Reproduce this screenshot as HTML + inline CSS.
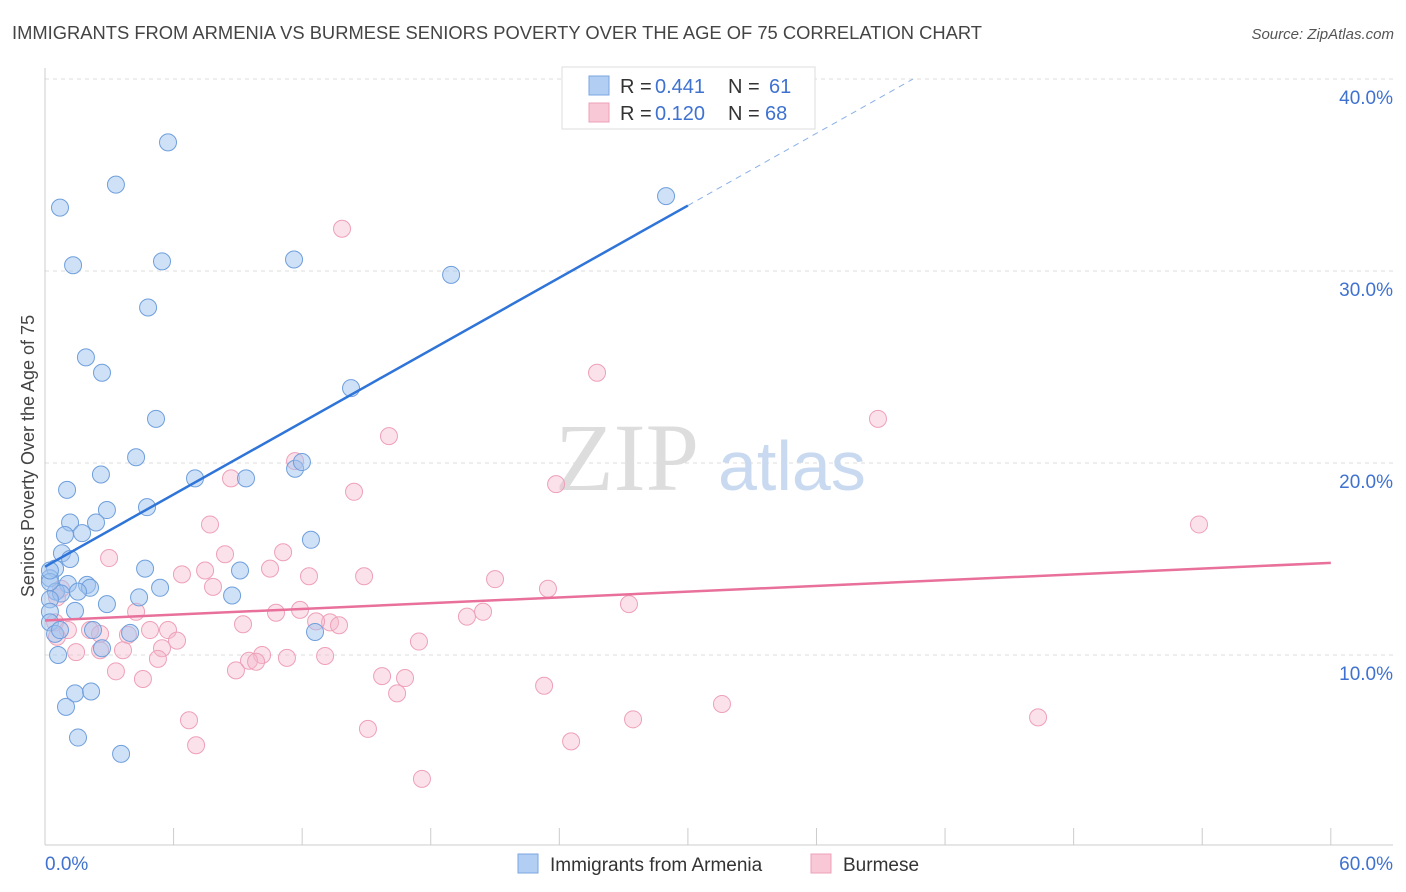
<!DOCTYPE html>
<html><head><meta charset="utf-8"><style>
body{margin:0;background:#fff;font-family:"Liberation Sans",sans-serif;}
svg{display:block}
</style></head><body>
<svg id="chart" width="1406" height="892">
<text x="12" y="39" font-size="18" fill="#444" textLength="970" lengthAdjust="spacingAndGlyphs">IMMIGRANTS FROM ARMENIA VS BURMESE SENIORS POVERTY OVER THE AGE OF 75 CORRELATION CHART</text>
<text x="1394" y="39" font-size="15" fill="#555" font-style="italic" text-anchor="end">Source: ZipAtlas.com</text>
<g id="grid"></g>
<g>
<text x="555" y="490" font-family="Liberation Serif,serif" font-size="96" fill="#ddd">ZIP</text>
<text x="718" y="490" font-size="70" fill="#c9daf0">atlas</text>
</g>
<text transform="translate(34,456) rotate(-90)" font-size="18" fill="#444" text-anchor="middle">Seniors Poverty Over the Age of 75</text>
<g id="pts"></g>
<g id="lines"></g>
<g>
<rect x="562" y="67" width="253" height="62" fill="#fff" stroke="#ddd"/>
<rect x="589" y="76" width="20" height="19" fill="#b3cef3" stroke="#7aa6e0"/>
<rect x="589" y="103" width="20" height="19" fill="#f8c8d6" stroke="#eea0b8"/>
<text y="93" font-size="20" fill="#333"><tspan x="620">R = </tspan><tspan x="655" fill="#3f72d0">0.441</tspan><tspan x="728">N = </tspan><tspan x="769" fill="#3f72d0">61</tspan></text>
<text y="120" font-size="20" fill="#333"><tspan x="620">R = </tspan><tspan x="655" fill="#3f72d0">0.120</tspan><tspan x="728">N = </tspan><tspan x="765" fill="#3f72d0">68</tspan></text>
</g>
<g>
<rect x="518" y="854" width="20" height="19" fill="#b3cef3" stroke="#7aa6e0"/>
<text x="550" y="871" font-size="19" fill="#333">Immigrants from Armenia</text>
<rect x="811" y="854" width="20" height="19" fill="#f8c8d6" stroke="#eea0b8"/>
<text x="843" y="871" font-size="19" fill="#333">Burmese</text>
</g>
</svg>
<script>
const blueX=[5.74,3.31,0.70,1.31,5.46,11.62,18.95,4.81,1.91,2.66,14.28,5.18,4.25,1.03,2.61,7.0,9.38,11.67,11.99,4.76,2.89,1.17,2.38,1.73,0.93,0.79,1.17,12.41,0.47,0.23,4.67,9.1,1.07,1.96,2.1,0.51,1.54,0.75,5.37,0.23,8.73,4.39,2.89,1.4,0.23,0.23,12.6,2.24,3.97,0.47,2.66,0.61,1.4,2.15,0.98,1.54,3.55,28.98,0.23,0.7,0.23];
const blueY=[36.7,34.5,33.3,30.3,30.5,30.6,29.8,28.1,25.5,24.7,23.9,22.3,20.3,18.6,19.4,19.2,19.2,19.7,20.05,17.7,17.55,16.9,16.9,16.35,16.25,15.3,15.0,16.0,14.5,14.0,14.5,14.4,13.7,13.65,13.5,13.3,13.3,13.2,13.5,12.9,13.1,13.0,12.65,12.3,12.25,11.7,11.2,11.3,11.15,11.1,10.35,10.0,8.0,8.1,7.3,5.7,4.85,33.9,13.8,11.3,14.4];
const pinkX=[13.86,25.76,38.87,16.05,11.67,14.42,23.85,8.68,7.7,53.85,2.99,8.4,11.11,6.39,7.47,10.5,12.32,14.89,21.0,7.84,23.47,0.56,0.75,27.25,4.25,10.78,11.9,20.44,19.69,0.47,1.07,2.1,4.9,5.74,13.3,13.72,9.24,12.65,0.56,3.87,6.16,17.45,2.57,1.45,3.64,5.46,10.13,5.27,9.52,9.85,11.29,13.07,8.91,3.31,4.57,15.73,16.8,16.43,23.29,31.59,6.72,27.44,46.34,15.07,24.55,7.05,17.59,2.57];
const pinkY=[32.2,24.7,22.3,21.4,20.1,18.5,18.9,19.2,16.8,16.8,15.05,15.25,15.35,14.2,14.4,14.5,14.1,14.1,13.95,13.55,13.45,13.0,13.45,12.65,12.25,12.2,12.35,12.25,12.0,11.7,11.3,11.3,11.3,11.3,11.7,11.55,11.6,11.75,10.95,11.05,10.75,10.7,10.25,10.15,10.25,10.35,10.0,9.8,9.7,9.65,9.85,9.95,9.2,9.15,8.75,8.9,8.8,8.0,8.4,7.45,6.6,6.65,6.75,6.15,5.5,5.3,3.55,11.1];
const yTicks=[10,20,30,40];
const xTickVals=[0,6,12,18,24,30,36,42,48,54,60];
const blueTrend=[14.6,0.627];
const pinkTrend=[11.8,0.05];
const NS='http://www.w3.org/2000/svg';
const sx=v=>45+v*21.43, sy=v=>847-v*19.2;
function mk(tag,attrs,parent){const e=document.createElementNS(NS,tag);for(const k in attrs)e.setAttribute(k,attrs[k]);parent.appendChild(e);return e;}
const grid=document.getElementById('grid');
yTicks.forEach(t=>{
 const l=mk('line',{x1:45,x2:1393,y1:sy(t),y2:sy(t),stroke:'#ddd','stroke-dasharray':'4,4'},grid);
 
 
 const tx=mk('text',{x:1393,y:sy(t)+25,'font-size':19,fill:'#3f72d0','text-anchor':'end'},grid);
 tx.textContent=t.toFixed(1)+'%';
 
 
});
const ax=mk('line',{x1:45,x2:1393,y1:845,y2:845,stroke:'#ccc'},grid);


const ay=mk('line',{x1:45,x2:45,y1:68,y2:845,stroke:'#ccc'},grid);


xTickVals.forEach(t=>{
 const l=mk('line',{x1:sx(t),x2:sx(t),y1:828,y2:845,stroke:'#ccc'},grid);
 
 
});
[[0,'start',45],[60,'end',1393]].forEach(([v,a,x])=>{
 const tx=mk('text',{x:x,y:870,'font-size':19,fill:'#3f72d0','text-anchor':a},grid);
 tx.textContent=v.toFixed(1)+'%';
 
 
});
const pts=document.getElementById('pts');
pinkX.forEach((x,i)=>{
 const c=mk('circle',{cx:sx(x),cy:sy(pinkY[i]),r:8.5,fill:'rgba(246,182,202,0.4)',stroke:'#eea0b8','stroke-width':1},pts);
 
 
});
blueX.forEach((x,i)=>{
 const c=mk('circle',{cx:sx(x),cy:sy(blueY[i]),r:8.5,fill:'rgba(160,196,240,0.5)',stroke:'#6f9fdc','stroke-width':1},pts);
 
 
});
const lines=document.getElementById('lines');
const bl=mk('line',{x1:sx(0),y1:sy(blueTrend[0]),x2:sx(30),y2:sy(blueTrend[0]+blueTrend[1]*30),stroke:'#2f74d8','stroke-width':2.5},lines);


const xe=(40-blueTrend[0])/blueTrend[1];
const bd=mk('line',{x1:sx(30),y1:sy(blueTrend[0]+blueTrend[1]*30),x2:sx(xe),y2:sy(40),stroke:'#8ab0e6','stroke-width':1,'stroke-dasharray':'6,5'},lines);


const pl=mk('line',{x1:sx(0),y1:sy(pinkTrend[0]),x2:sx(60),y2:sy(pinkTrend[0]+pinkTrend[1]*60),stroke:'#e8709a','stroke-width':2.5},lines);


</script>
</body></html>
